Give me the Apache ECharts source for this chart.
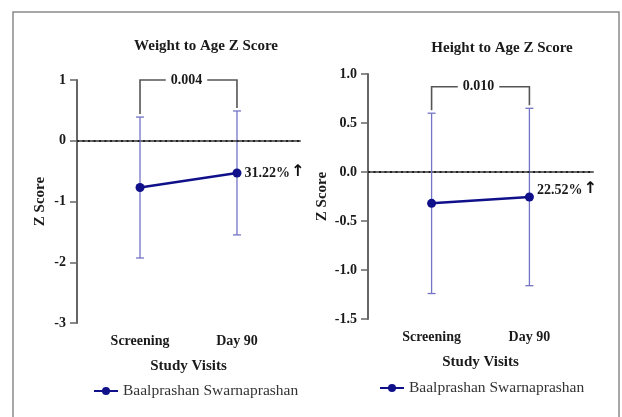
<!DOCTYPE html>
<html><head><meta charset="utf-8">
<script src="https://cdn.jsdelivr.net/npm/echarts@6/dist/echarts.min.js"></script>
<style>html,body{margin:0;padding:0;background:#fff}#c{width:622px;height:417px}</style>
</head><body><div id="c"></div>
<script>
const categories = ['Screening', 'Day 90'];
const seriesName = 'Baalprashan Swarnaprashan';
// Weight to Age Z Score
const waMean = [-0.77, -0.53];
const waSD = [1.16, 1.02];
const waP = '0.004';
const waChange = '31.22%';
const waBracket = 1.0;
// Height to Age Z Score
const haMean = [-0.32, -0.255];
const haSD = [0.92, 0.905];
const haP = '0.010';
const haChange = '22.52%';
const haBracket = 0.87;

const SERIF = '"Liberation Serif", "DejaVu Serif", serif';
const navy = '#10108a';
const errColor = '#7474c6';
const TXT = '#1a1a1a';

function pts(mean){ return mean.map((m,i)=>[i+1, m]); }

function errSeries(idx, mean, sd){
  return {
    type:'custom', xAxisIndex:idx, yAxisIndex:idx, z:2, silent:true,
    data: mean.map((m,i)=>[i+1, m-sd[i], m+sd[i]]),
    renderItem(params, api){
      const x = api.value(0);
      const lo = api.coord([x, api.value(1)]);
      const hi = api.coord([x, api.value(2)]);
      const cw = 4;
      const st = {stroke: errColor, lineWidth: 1.3};
      return {type:'group', children:[
        {type:'line', shape:{x1:lo[0],y1:lo[1],x2:hi[0],y2:hi[1]}, style:st},
        {type:'line', shape:{x1:lo[0]-cw,y1:lo[1],x2:lo[0]+cw,y2:lo[1]}, style:st},
        {type:'line', shape:{x1:hi[0]-cw,y1:hi[1],x2:hi[0]+cw,y2:hi[1]}, style:st}
      ]};
    }
  };
}

function bracketSeries(idx, mean, sd, yb, p){
  return {
    type:'custom', xAxisIndex:idx, yAxisIndex:idx, z:3, silent:true,
    data: [[1, mean[0]+sd[0], 2, mean[1]+sd[1], yb]],
    renderItem(params, api){
      const a = api.coord([api.value(0), api.value(1)]);
      const b = api.coord([api.value(2), api.value(3)]);
      const t = api.coord([api.value(0), api.value(4)]);
      const st = {stroke:'#555', lineWidth:1.6, fill:null};
      return {type:'group', children:[
        {type:'polyline', shape:{points:[[a[0], a[1]-3],[a[0], t[1]],[b[0], t[1]],[b[0], b[1]-3]]}, style:st},
        {type:'text', x:(a[0]+b[0])/2 - 2, y:t[1], style:{text:p, fontFamily:SERIF, fontWeight:'bold', fontSize:14, fill:TXT,
          align:'center', verticalAlign:'middle', backgroundColor:'#fff', padding:[0,5]}}
      ]};
    }
  };
}

function lineSeries(idx, mean, change, off){
  return {
    name: seriesName, type:'line', xAxisIndex:idx, yAxisIndex:idx, z:4,
    data: pts(mean), symbol:'circle', symbolSize:9,
    lineStyle:{color:navy, width:2.5}, itemStyle:{color:navy},
    label:{show:true, position:'right', distance:3, offset:off,
      formatter:(p)=> p.dataIndex===1 ? '{t|'+change+'}{a|↑}' : '',
      rich:{t:{fontFamily:SERIF, fontWeight:'bold', fontSize:14, color:TXT},
            a:{fontFamily:'"DejaVu Sans"', fontWeight:'bold', fontSize:16, color:'#111', padding:[0,0,2,1]}}},
    markLine:{silent:true, symbol:'none', label:{show:false},
      lineStyle:{color:'#222', type:[2,3.5], width:2}, data:[{yAxis:0}]}
  };
}

function xAxis(idx){
  return {
    type:'value', gridIndex:idx, min:0.35, max:2.65,
    axisLine:{lineStyle:{color:'#666', width:2}}, axisTick:{show:false}, splitLine:{show:false},
    axisLabel:{customValues:[1,2], formatter:(v)=>categories[Math.round(v)-1]||'', margin:11,
      fontFamily:SERIF, fontWeight:'bold', fontSize:14, color:TXT},
    name:'Study Visits', nameLocation:'middle', nameGap:36,
    nameTextStyle:{fontFamily:SERIF, fontWeight:'bold', fontSize:15, color:TXT}
  };
}

function yAxis(idx, min, max, interval, dec, gap){
  return {
    type:'value', gridIndex:idx, min:min, max:max, interval:interval,
    axisLine:{show:true, lineStyle:{color:'#666', width:2}},
    axisTick:{show:true, length:7, lineStyle:{color:'#666', width:1.5}},
    splitLine:{show:false},
    axisLabel:{formatter:(v)=>v.toFixed(dec), margin:11, fontFamily:SERIF, fontWeight:'bold', fontSize:14, color:TXT},
    name:'Z Score', nameLocation:'middle', nameGap:gap, nameRotate:90,
    nameTextStyle:{fontFamily:SERIF, fontWeight:'bold', fontSize:15, color:TXT}
  };
}

const chart = echarts.init(document.getElementById('c'), null, {renderer:'canvas'});
chart.setOption({
  animation:false,
  backgroundColor:'#fff',
  title:[
    {text:'Weight to Age Z Score', left:201, top:34, textAlign:'center',
      textStyle:{fontFamily:SERIF, fontWeight:'bold', fontSize:15, color:TXT}},
    {text:'Height to Age Z Score', left:497, top:36, textAlign:'center',
      textStyle:{fontFamily:SERIF, fontWeight:'bold', fontSize:15, color:TXT}}
  ],
  grid:[
    {left:77, right:322, top:80, bottom:94},
    {left:368, right:29, top:74, bottom:98}
  ],
  legend:[
    {data:[seriesName], left:88, top:378, itemWidth:24, itemHeight:10, itemGap:6,
      textStyle:{fontFamily:SERIF, fontSize:15.5, color:'#333'}},
    {data:[seriesName], left:374, top:375, itemWidth:24, itemHeight:10, itemGap:6,
      textStyle:{fontFamily:SERIF, fontSize:15.5, color:'#333'}}
  ],
  xAxis:[xAxis(0), xAxis(1)],
  yAxis:[yAxis(0,-3,1,1,0,29), yAxis(1,-1.5,1,0.5,1,38)],
  series:[
    errSeries(0, waMean, waSD), bracketSeries(0, waMean, waSD, waBracket, waP), lineSeries(0, waMean, waChange, [0,0]),
    errSeries(1, haMean, haSD), bracketSeries(1, haMean, haSD, haBracket, haP), lineSeries(1, haMean, haChange, [0,-7])
  ],
  graphic:[
    {type:'rect', shape:{x:13, y:12, width:606, height:420}, style:{fill:null, stroke:'#8a8a8a', lineWidth:1.5}, silent:true}
  ]
});
</script></body></html>
